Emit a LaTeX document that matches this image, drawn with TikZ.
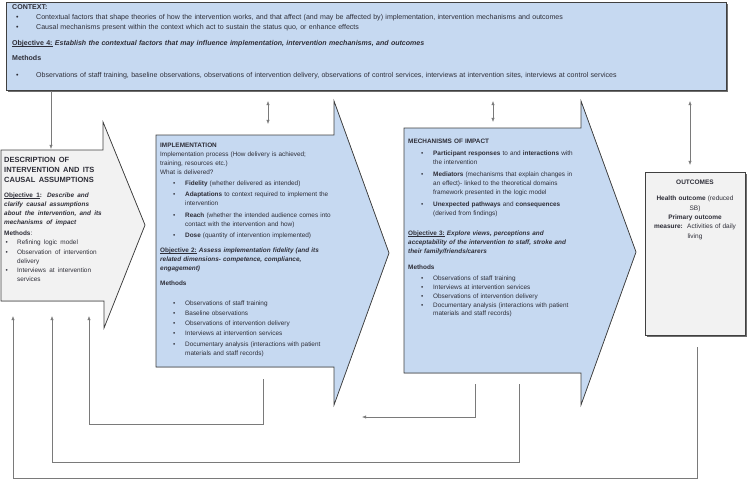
\documentclass[tikz,border=0pt]{standalone}
\usepackage{fontspec}
\setmainfont{Liberation Sans}
\usetikzlibrary{arrows.meta,shadows}
\definecolor{boxblue}{HTML}{C6D9F1}
\definecolor{boxgray}{HTML}{F2F2F2}
\definecolor{edge}{HTML}{404040}
\definecolor{txt}{HTML}{2E2E38}
\definecolor{conn}{HTML}{7A7A7A}
\definecolor{shade}{HTML}{6E6E6E}
\newcommand\bitem[2]{\par\noindent\hangindent=#2\hangafter=1\makebox[#2][l]{\hspace*{#1}\textbullet}\ignorespaces}
\newcommand\uln[1]{\leavevmode\setbox0\hbox{#1}\rlap{\rule[-1.1pt]{\wd0}{0.45pt}}\box0\relax}
\begin{document}
\begin{tikzpicture}[x=1pt,y=-1pt,
  blk/.style={draw=edge,line width=0.75pt,line join=miter},
  conn/.style={draw=conn,line width=0.6pt},
  tipend/.style={-{Latex[length=4.2pt,width=3.4pt]}},
  tipboth/.style={{Latex[length=4.2pt,width=3.4pt]}-{Latex[length=4.2pt,width=3.4pt]}},
  txtbox/.style={anchor=north west,inner sep=0pt,align=left,text=txt},
  sqbox/.style={blk,inner sep=0pt,drop shadow={shadow xshift=1.6pt,shadow yshift=-1.6pt,fill=shade,opacity=1}},
]
\useasboundingbox (0,0) rectangle (747,483);

% ---------- context box
\node[sqbox,fill=boxblue,minimum width=720pt,minimum height=88pt] (ctx) at (366,46) {};
\node[txtbox,text width=712pt,font=\fontsize{7.05}{10}\selectfont] (ctxt) at (12,4.6) {%
\textbf{CONTEXT:}
\bitem{4pt}{24pt}Contextual factors that shape theories of how the intervention works, and that affect (and may be affected by) implementation, intervention mechanisms and outcomes
\bitem{4pt}{24pt}Causal mechanisms present within the context which act to sustain the status quo, or enhance effects\par
\vspace{6pt}
\noindent\textbf{\uln{Objective 4:} \itshape Establish the contextual factors that may influence implementation, intervention mechanisms, and outcomes}\par
\vspace{5pt}
\noindent\textbf{Methods}\par
\vspace{7pt}
\bitem{4pt}{24pt}Observations of staff training, baseline observations, observations of intervention delivery, observations of control services, interviews at intervention sites, interviews at control services\par};

% ---------- description arrow
\coordinate (d1) at (1,150);
\coordinate (d2) at (103,150);
\coordinate (d3) at (103,122);
\coordinate (dtip) at (145,225);
\coordinate (d4) at (104,328);
\coordinate (d5) at (104,301);
\coordinate (d6) at (1,301);
\fill[shade,shift={(1.6,1.6)}] (d1)--(d2)--(d3)--(dtip)--(d4)--(d5)--(d6)--cycle;
\path[blk,fill=boxgray] (d1)--(d2)--(d3)--(dtip)--(d4)--(d5)--(d6)--cycle;
\node[txtbox,text width=98pt] (desc) at (4,157.5) {%
{\fontsize{7.5}{10}\selectfont\bfseries DESCRIPTION OF\\INTERVENTION AND ITS\\CAUSAL ASSUMPTIONS\par}
\vspace{5.5pt}
{\fontsize{6.4}{9}\selectfont\bfseries\uln{Objective 1}: \itshape Describe and\\clarify causal assumptions\\about the intervention, and its\\mechanisms of impact\par}
\vspace{2pt}
{\fontsize{6.4}{9.2}\selectfont\noindent\textbf{Methods}:
\bitem{1.5pt}{13pt}Refining logic model
\bitem{1.5pt}{13pt}Observation of intervention\newline delivery
\bitem{1.5pt}{13pt}Interviews at intervention\newline services\par}};

% ---------- implementation arrow
\coordinate (i1) at (156,135);
\coordinate (i2) at (334,135);
\coordinate (i3) at (334,101);
\coordinate (itip) at (389,253);
\coordinate (i4) at (334,405);
\coordinate (i5) at (334,367);
\coordinate (i6) at (156,367);
\fill[shade,shift={(1.6,1.6)}] (i1)--(i2)--(i3)--(itip)--(i4)--(i5)--(i6)--cycle;
\path[blk,fill=boxblue] (i1)--(i2)--(i3)--(itip)--(i4)--(i5)--(i6)--cycle;
\node[txtbox,text width=175pt,font=\fontsize{6.4}{9.1}\selectfont] (impl) at (160,142.7) {%
\textbf{IMPLEMENTATION}\\
Implementation process (How delivery is achieved;\\
training, resources etc.)\\
What is delivered?\par\vspace{2pt}
\bitem{13pt}{25pt}\textbf{Fidelity} (whether delivered as intended)\par\vspace{2pt}
\bitem{13pt}{25pt}\textbf{Adaptations} to context required to implement the\newline intervention\par\vspace{2pt}
\bitem{13pt}{25pt}\textbf{Reach} (whether the intended audience comes into\newline contact with the intervention and how)\par\vspace{2pt}
\bitem{13pt}{25pt}\textbf{Dose} (quantity of intervention implemented)\par
\vspace{6.4pt}
\noindent\textbf{\uln{Objective 2:} \itshape Assess implementation fidelity (and its\\related dimensions- competence, compliance,\\engagement)}\par
\vspace{5pt}
\noindent\textbf{Methods}\par
\vspace{11.5pt}
\bitem{13pt}{25pt}Observations of staff training\par\vspace{1pt}
\bitem{13pt}{25pt}Baseline observations\par\vspace{1pt}
\bitem{13pt}{25pt}Observations of intervention delivery\par\vspace{1pt}
\bitem{13pt}{25pt}Interviews at intervention services\par\vspace{1pt}
\bitem{13pt}{25pt}Documentary analysis (interactions with patient\newline materials and staff records)\par};

% ---------- mechanisms arrow
\coordinate (m1) at (404,128);
\coordinate (m2) at (581,128);
\coordinate (m3) at (581,101);
\coordinate (mtip) at (636,252);
\coordinate (m4) at (581,405);
\coordinate (m5) at (581,373);
\coordinate (m6) at (404,373);
\fill[shade,shift={(1.6,1.6)}] (m1)--(m2)--(m3)--(mtip)--(m4)--(m5)--(m6)--cycle;
\path[blk,fill=boxblue] (m1)--(m2)--(m3)--(mtip)--(m4)--(m5)--(m6)--cycle;
\node[txtbox,text width=175pt,font=\fontsize{6.4}{8.9}\selectfont] (mech) at (408,139.2) {%
\textbf{MECHANISMS OF IMPACT}\par\vspace{3.1pt}
\bitem{13pt}{25pt}\textbf{Participant responses} to and \textbf{interactions} with\newline the intervention\par\vspace{3pt}
\bitem{13pt}{25pt}\textbf{Mediators} (mechanisms that explain changes in\newline an effect)- linked to the theoretical domains\newline framework presented in the logic model\par\vspace{3pt}
\bitem{13pt}{25pt}\textbf{Unexpected pathways} and \textbf{consequences}\newline (derived from findings)\par
\vspace{11.6pt}
\noindent\textbf{\uln{Objective 3:} \itshape Explore views, perceptions and\\acceptability of the intervention to staff, stroke and\\their family/friends/carers}\par
\vspace{7pt}
\noindent\textbf{Methods}\par
\vspace{2pt}
\bitem{13pt}{25pt}Observations of staff training
\bitem{13pt}{25pt}Interviews at intervention services
\bitem{13pt}{25pt}Observations of intervention delivery
\bitem{13pt}{25pt}Documentary analysis (interactions with patient\newline materials and staff records)\par};

% ---------- outcomes box
\node[sqbox,fill=boxgray,minimum width=100pt,minimum height=163pt] (outc) at (695,253.5) {};
\node[anchor=north,inner sep=0pt,text width=96pt,align=center,text=txt,font=\fontsize{6.5}{9.4}\selectfont] (outt) at (695,179.5) {%
\textbf{OUTCOMES}\\[7pt]
\textbf{Health outcome} (reduced\\SB)\\
\textbf{Primary outcome}\\
\textbf{measure:}\ \ Activities of daily\\
living};

% ---------- top connectors
\coordinate (t1s) at (51,91);
\coordinate (t1e) at (51,149);
\draw[conn,tipend] (t1s) -- (t1e);
\coordinate (t2s) at (268,101);
\coordinate (t2e) at (268,124);
\draw[conn,tipboth] (t2s) -- (t2e);
\coordinate (t3s) at (493,101);
\coordinate (t3e) at (493,122);
\draw[conn,tipboth] (t3s) -- (t3e);
\coordinate (t4s) at (690,101);
\coordinate (t4e) at (690,165);
\draw[conn,tipboth] (t4s) -- (t4e);

% ---------- feedback connectors
\coordinate (u1) at (13,316);
\coordinate (u2) at (52,316);
\coordinate (u3) at (89,316);
\coordinate (ib) at (263,379);
\coordinate (ic) at (263,424);
\draw[conn,tipend] (ib) -- (ic) -| (u3);
\coordinate (ma) at (475,384);
\coordinate (lt) at (362,417);
\draw[conn,tipend] (ma) |- (lt);
\coordinate (mb) at (519,384);
\coordinate (mc) at (519,462);
\draw[conn,tipend] (mb) -- (mc) -| (u2);
\coordinate (ob) at (697,347);
\coordinate (oc) at (697,478);
\draw[conn,tipend] (ob) -- (oc) -| (u1);
\end{tikzpicture}
\end{document}
